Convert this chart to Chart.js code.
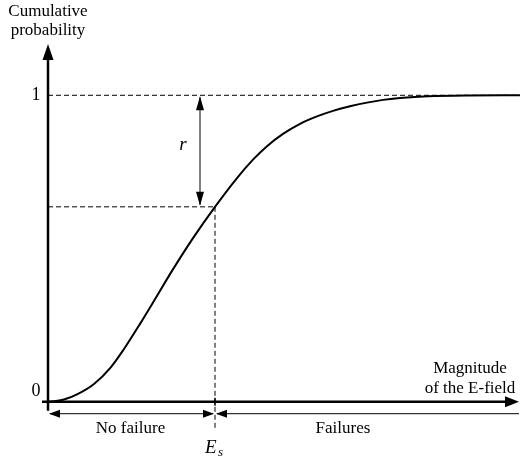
<!DOCTYPE html>
<html lang="en">
<head>
    <meta charset="utf-8">
    <title>Cumulative probability</title>
    <script src="https://cdn.jsdelivr.net/npm/chart.js"></script>
    <style>
        html, body { margin: 0; padding: 0; background: #fff; }
    </style>
</head>
<body>
    <canvas id="cdfChart" width="520" height="463"></canvas>
    <script>
        // E-field magnitude (arbitrary units) and cumulative probability
        const eField = [0, 8, 16, 29, 46, 63, 76, 92, 108, 124, 145, 167, 189, 205, 219, 235, 252, 269, 285, 302, 319, 335, 352, 380, 420, 472];
        const cumProb = [0, 0.002, 0.007, 0.024, 0.058, 0.113, 0.172, 0.254, 0.340, 0.427, 0.534, 0.636, 0.730, 0.790, 0.834, 0.874, 0.907, 0.931, 0.949, 0.964, 0.976, 0.985, 0.991, 0.997, 0.9995, 1.0];
        const eStress = 167;     // E_s
        const pStress = 0.636;   // probability at E_s
        const xMax = 472;
        const yTicks = ['0', '1'];

        const serif = '"Liberation Serif", "DejaVu Serif", serif';

        function toPoints(xs, ys) {
            return xs.map((x, i) => ({ x: x, y: ys[i] }));
        }

        function arrowHead(ctx, x, y, dir, len, half) {
            // dir: 'up', 'down', 'left', 'right'
            ctx.beginPath();
            ctx.moveTo(x, y);
            if (dir === 'up') { ctx.lineTo(x - half, y + len); ctx.lineTo(x + half, y + len); }
            if (dir === 'down') { ctx.lineTo(x - half, y - len); ctx.lineTo(x + half, y - len); }
            if (dir === 'left') { ctx.lineTo(x + len, y - half); ctx.lineTo(x + len, y + half); }
            if (dir === 'right') { ctx.lineTo(x - len, y - half); ctx.lineTo(x - len, y + half); }
            ctx.closePath();
            ctx.fill();
        }

        // axes, arrows and labels
        const decorations = {
            id: 'decorations',
            afterDatasetsDraw(chart) {
                const ctx = chart.ctx;
                const xs = chart.scales.x, ys = chart.scales.y;
                const x0 = xs.getPixelForValue(0), y0 = ys.getPixelForValue(0);
                const y1 = ys.getPixelForValue(1);
                const xE = xs.getPixelForValue(eStress), yE = ys.getPixelForValue(pStress);
                const xEnd = xs.getPixelForValue(xMax);
                ctx.save();
                ctx.strokeStyle = '#000';
                ctx.fillStyle = '#000';

                // main axes
                ctx.lineWidth = 2.5;
                ctx.beginPath();
                ctx.moveTo(x0, y0 + 9);
                ctx.lineTo(x0, ys.getPixelForValue(1.135));
                ctx.moveTo(x0 - 6, y0);
                ctx.lineTo(xEnd - 10, y0);
                ctx.stroke();
                arrowHead(ctx, x0, ys.getPixelForValue(1.2) + 10, 'up', 16, 5.5);
                arrowHead(ctx, xEnd - 1, y0, 'right', 14, 5.5);

                // tick at E_s
                ctx.lineWidth = 1.5;
                ctx.beginPath();
                ctx.moveTo(xE, y0 - 4);
                ctx.lineTo(xE, y0 + 4);
                ctx.stroke();

                // bracket arrows under the axis
                const yb = y0 + 12;
                ctx.lineWidth = 1;
                ctx.beginPath();
                ctx.moveTo(x0 + 2, yb);
                ctx.lineTo(xE - 2, yb);
                ctx.moveTo(xE + 2, yb);
                ctx.lineTo(xEnd - 1, yb);
                ctx.stroke();
                arrowHead(ctx, x0 + 1, yb, 'left', 11, 4);
                arrowHead(ctx, xE - 1, yb, 'right', 11, 4);
                arrowHead(ctx, xE + 1, yb, 'left', 11, 4);

                // r arrow
                const xr = x0 + 152;
                ctx.beginPath();
                ctx.moveTo(xr, y1 + 2);
                ctx.lineTo(xr, yE - 2);
                ctx.stroke();
                arrowHead(ctx, xr, y1 + 1, 'up', 14, 4);
                arrowHead(ctx, xr, yE - 1, 'down', 14, 4);

                // text
                ctx.textAlign = 'center';
                ctx.textBaseline = 'middle';
                ctx.font = '17px ' + serif;
                ctx.fillText('Cumulative', x0, 12);
                ctx.fillText('probability', x0, 31);
                ctx.fillText('Magnitude', 470, y0 - 33);
                ctx.fillText('of the E-field', 470, y0 - 13);
                ctx.fillText('No failure', (x0 + xE) / 2 - 1, y0 + 27);
                ctx.fillText('Failures', 343, y0 + 27);
                ctx.font = '18px ' + serif;
                ctx.fillText(yTicks[0], x0 - 12, y0 - 10);
                ctx.fillText(yTicks[1], x0 - 12, y1);
                ctx.font = 'italic 19px ' + serif;
                ctx.fillText('r', xr - 17, ys.getPixelForValue((1 + pStress) / 2) - 6);
                ctx.textAlign = 'left';
                ctx.fillText('E', xE - 10, y0 + 46);
                ctx.font = 'italic 13px ' + serif;
                ctx.fillText('s', xE + 3, y0 + 51);
                ctx.restore();
            }
        };

        const dashed = {
            borderColor: '#000',
            borderWidth: 1,
            borderDash: [5, 3],
            pointRadius: 0,
            fill: false
        };

        const ctx = document.getElementById('cdfChart').getContext('2d');
        const cdfChart = new Chart(ctx, {
            type: 'line',
            data: {
                datasets: [
                    {
                        label: 'CDF',
                        data: toPoints(eField, cumProb),
                        borderColor: '#000',
                        borderWidth: 2,
                        pointRadius: 0,
                        cubicInterpolationMode: 'monotone',
                        fill: false
                    },
                    Object.assign({ label: 'one', data: toPoints([0, xMax], [1, 1]) }, dashed),
                    Object.assign({ label: 'pE', data: toPoints([0, eStress], [pStress, pStress]) }, dashed),
                    Object.assign({ label: 'Es', data: toPoints([eStress, eStress], [pStress, -0.095]) }, dashed)
                ]
            },
            options: {
                responsive: false,
                animation: false,
                events: [],
                layout: { padding: { left: 48, right: 0, top: 34, bottom: 0 } },
                plugins: {
                    legend: { display: false },
                    tooltip: { enabled: false }
                },
                scales: {
                    x: { type: 'linear', display: false, min: 0, max: xMax },
                    y: { type: 'linear', display: false, min: -0.2, max: 1.2 }
                }
            },
            plugins: [decorations]
        });
    </script>
</body>
</html>
